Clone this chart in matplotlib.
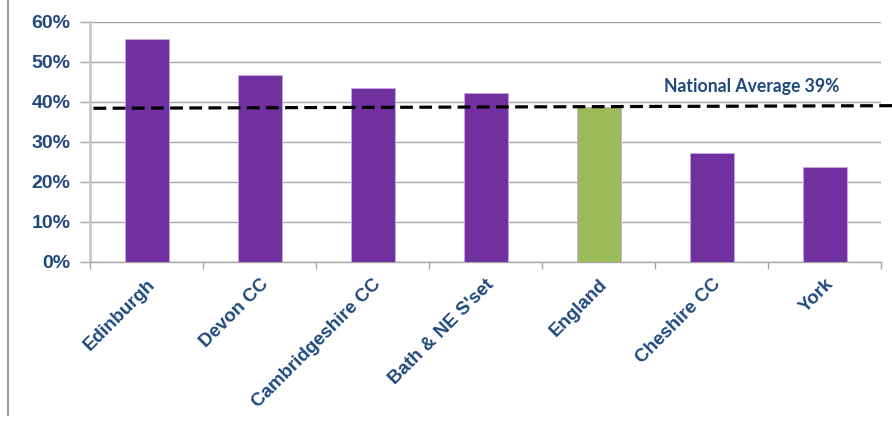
import matplotlib.pyplot as plt
from matplotlib.lines import Line2D
from matplotlib.ticker import FixedLocator

categories = ["Edinburgh", "Devon CC", "Cambridgeshire CC", "Bath & NE S'set",
              "England", "Cheshire CC", "York"]
values = [55.7, 46.8, 43.5, 42.2, 38.6, 27.3, 23.7]
highlight = "England"
avg_label = "National Average 39%"
avg_start, avg_end = 38.4, 39.1
yticks = [0, 10, 20, 30, 40, 50, 60]

PURPLE = "#7030A0"
GREEN = "#9BBB59"
NAVY = "#1F497D"

plt.rcParams['font.family'] = ['Liberation Sans', 'DejaVu Sans']

fig = plt.figure(figsize=(8.92, 4.21), dpi=100)
ax = fig.add_axes([0.101, 0.378, 0.887, 0.570])

x = list(range(len(categories)))
colors = [GREEN if c == highlight else PURPLE for c in categories]
ax.bar(x, values, width=0.39, color=colors, edgecolor="#C9A6E0", linewidth=0.6, zorder=3)

# national average dashed line (slightly sloped in the original)
ax.plot([-0.47, 7.1], [avg_start, avg_end], color="black", linestyle=(0, (4, 2)),
        linewidth=2.3, zorder=4, clip_on=False)
ax.text(5.35, 43.9, avg_label, family=["Lato", "DejaVu Sans"], fontweight="bold",
        fontsize=12.7, color=NAVY, ha="center", va="center")

ax.set_xlim(-0.5, len(categories) - 0.5)
ax.set_ylim(0, 60)
ax.set_yticks(yticks)
ax.set_yticklabels([f"{t}%" for t in yticks], fontsize=14, fontweight="bold", color=NAVY)
ax.yaxis.grid(True, color="#A6A6A6", linewidth=1.0, zorder=0)
ax.tick_params(axis="y", length=7, color="#A6A6A6", width=1, pad=7)

ax.set_xticks(x)
ax.set_xticklabels(categories, rotation=45, ha="right", rotation_mode="anchor",
                   fontsize=13.5, fontweight="bold", color=NAVY)
ax.tick_params(axis="x", length=0, pad=10)
ax.xaxis.set_minor_locator(FixedLocator([i - 0.5 for i in range(len(categories) + 1)]))
ax.tick_params(axis="x", which="minor", length=5, color="#A6A6A6", width=1)

for s in ["top", "right"]:
    ax.spines[s].set_visible(False)
ax.spines["left"].set_color("#C8C8C8")
ax.spines["left"].set_linewidth(2)
ax.spines["bottom"].set_color("#A6A6A6")
ax.spines["bottom"].set_linewidth(1)

# frame line on the left edge of the picture
fig.add_artist(Line2D([0.009, 0.009], [0.015, 1.0], color="#A0A0A0", linewidth=1.5,
                      transform=fig.transFigure))

fig.savefig("out.png", dpi=100)
